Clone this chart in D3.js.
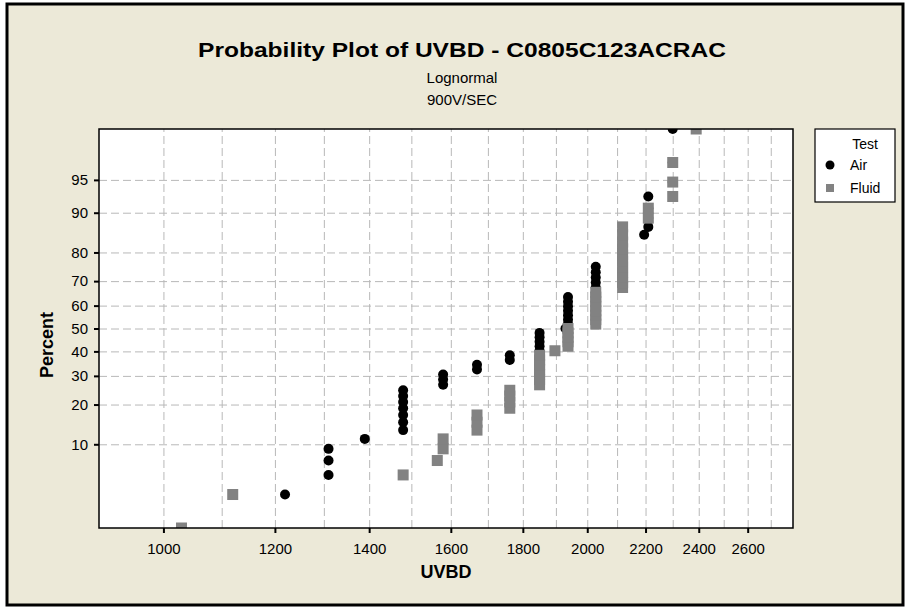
<!DOCTYPE html>
<html>
<head>
<meta charset="utf-8">
<script src="https://cdn.jsdelivr.net/npm/d3@7"></script>
<style>
body{margin:0;background:#fff;}
text{font-family:"Liberation Sans",Arial,sans-serif;}
</style>
</head>
<body>
<svg id="chart" width="906" height="609"></svg>
<script>
// UVBD values, with how many tied points sit at each one
var airValues  = [1030,1220,1310,1390,1480,1580,1670,1762,1850,1930,1938,2028,2119,2195,2210,2300];
var airCounts  = [1,   1,   3,   1,   7,   3,   2,   2,   5,   1,   7,   6,   4,   1,   4,   3];
var fluidValues = [1030,1120,1480,1565,1580,1670,1762,1850,1897,1938,2028,2119,2210,2300,2390];
var fluidCounts = [1,   1,   1,   1,   2,   3,   4,   7,   1,   5,   8,   11,  2,   3,   1];

var percentTicks = [10,20,30,40,50,60,70,80,90,95];
var uvbdTicks = [1000,1200,1400,1600,1800,2000,2200,2400,2600];
var uvbdGrid = [1000,1100,1200,1300,1400,1500,1600,1700,1800,1900,2000,2100,2200,2300,2400,2500,2600,2700];

var groups = ["Air","Fluid"];

// inverse normal cdf (Acklam)
function qnorm(p){
	var a=[-3.969683028665376e+01,2.209460984245205e+02,-2.759285104469687e+02,1.383577518672690e+02,-3.066479806614716e+01,2.506628277459239e+00];
	var b=[-5.447609879822406e+01,1.615858368580409e+02,-1.556989798598866e+02,6.680131188771972e+01,-1.328068155288572e+01];
	var c=[-7.784894002430293e-03,-3.223964580411365e-01,-2.400758277161838e+00,-2.549732539343734e+00,4.374664141464968e+00,2.938163982698783e+00];
	var d=[7.784695709041462e-03,3.224671290700398e-01,2.445134137142996e+00,3.754408661907416e+00];
	var q,r;
	if(p<0.02425){
		q=Math.sqrt(-2*Math.log(p));
		return (((((c[0]*q+c[1])*q+c[2])*q+c[3])*q+c[4])*q+c[5])/((((d[0]*q+d[1])*q+d[2])*q+d[3])*q+1);
	}
	if(p>1-0.02425){
		q=Math.sqrt(-2*Math.log(1-p));
		return -(((((c[0]*q+c[1])*q+c[2])*q+c[3])*q+c[4])*q+c[5])/((((d[0]*q+d[1])*q+d[2])*q+d[3])*q+1);
	}
	q=p-0.5; r=q*q;
	return (((((a[0]*r+a[1])*r+a[2])*r+a[3])*r+a[4])*r+a[5])*q/(((((b[0]*r+b[1])*r+b[2])*r+b[3])*r+b[4])*r+1);
}

// expand ties and give each point its median rank (Benard)
function points(values, counts){
	var list=[];
	values.forEach(function(v,i){ for(var k=0;k<counts[i];k++) list.push(v); });
	list.sort(d3.ascending);
	var n=list.length;
	return list.map(function(v,i){ return {v:v, z:qnorm((i+1-0.3)/(n+0.4))}; });
}
var air = points(airValues, airCounts);
var fluid = points(fluidValues, fluidCounts);
var zEdge = qnorm(0.7/(air.length+0.4));

var pLeft=99, pTop=129, pRight=793, pBottom=528;
var w=pRight-pLeft, h=pBottom-pTop;

var svg = d3.select("#chart");

svg.append("rect")
	.attr("x",7).attr("y",4)
	.attr("width",896).attr("height",601)
	.attr("fill","#ECE9D8")
	.attr("stroke","#000")
	.attr("stroke-width",3);

var x = d3.scaleLog().domain([900,2800]).range([0,w]);
var y = d3.scaleLinear().domain([zEdge,-zEdge]).range([h,0]);

var g = svg.append("g").attr("transform","translate("+pLeft+","+pTop+")");

g.append("rect").attr("width",w).attr("height",h).attr("fill","#fff");

// grid
g.append("g")
	.attr("class","grid")
	.attr("transform","translate(0,"+h+")")
	.call(d3.axisBottom(x).tickValues(uvbdGrid).tickSize(-h).tickFormat(""));
g.append("g")
	.attr("class","grid")
	.call(d3.axisLeft(y).tickValues(percentTicks.map(function(p){return qnorm(p/100);})).tickSize(-w).tickFormat(""));
g.selectAll(".grid .domain").remove();
g.selectAll(".grid line")
	.attr("stroke","#b8b8b8")
	.attr("stroke-width",1)
	.attr("stroke-dasharray","8,4");

// points
g.append("clipPath").attr("id","clip")
	.append("rect").attr("width",w).attr("height",h);
var pts = g.append("g").attr("clip-path","url(#clip)");

pts.selectAll("circle")
	.data(air)
	.enter().append("circle")
		.attr("cx",function(d){return x(d.v);})
		.attr("cy",function(d){return y(d.z);})
		.attr("r",5)
		.attr("fill","#000");

pts.selectAll("rect")
	.data(fluid)
	.enter().append("rect")
		.attr("x",function(d){return x(d.v)-5.5;})
		.attr("y",function(d){return y(d.z)-5.5;})
		.attr("width",11)
		.attr("height",11)
		.attr("fill","#828282");

g.append("rect").attr("width",w).attr("height",h)
	.attr("fill","none").attr("stroke","#000").attr("stroke-width",1.5);

// axes
var xaxis = g.append("g")
	.attr("transform","translate(0,"+h+")")
	.call(d3.axisBottom(x).tickValues(uvbdTicks).tickFormat(d3.format("d")).tickSize(5).tickPadding(10));
var yaxis = g.append("g")
	.call(d3.axisLeft(y)
		.tickValues(percentTicks.map(function(p){return qnorm(p/100);}))
		.tickFormat(function(d,i){return percentTicks[i];})
		.tickSize(5).tickPadding(6));
[xaxis,yaxis].forEach(function(a){
	a.select(".domain").remove();
	a.selectAll("line").attr("stroke","#000").attr("stroke-width",2);
	a.selectAll("text").attr("fill","#000").style("font-size","15px").style("font-family","Liberation Sans, Arial, sans-serif");
});

// titles
svg.append("text")
	.attr("x",462).attr("y",57)
	.attr("text-anchor","middle")
	.attr("textLength",528).attr("lengthAdjust","spacingAndGlyphs")
	.style("font-size","21px").style("font-weight","bold")
	.text("Probability Plot of UVBD - C0805C123ACRAC");
svg.append("text")
	.attr("x",462).attr("y",83)
	.attr("text-anchor","middle")
	.style("font-size","15px")
	.text("Lognormal");
svg.append("text")
	.attr("x",462).attr("y",105)
	.attr("text-anchor","middle")
	.style("font-size","15px")
	.text("900V/SEC");

svg.append("text")
	.attr("x",446).attr("y",578)
	.attr("text-anchor","middle")
	.style("font-size","18px").style("font-weight","bold")
	.text("UVBD");
svg.append("text")
	.attr("transform","translate(53,345) rotate(-90)")
	.attr("text-anchor","middle")
	.style("font-size","18px").style("font-weight","bold")
	.text("Percent");

// legend
var lg = svg.append("g").attr("transform","translate(815,129)");
lg.append("rect").attr("width",80).attr("height",73)
	.attr("fill","#fff").attr("stroke","#000").attr("stroke-width",1.2);
lg.append("text").attr("x",50).attr("y",20).attr("text-anchor","middle")
	.style("font-size","14px").text("Test");
lg.append("circle").attr("cx",15).attr("cy",36).attr("r",4.5).attr("fill","#000");
lg.append("text").attr("x",35).attr("y",41).style("font-size","14px").text(groups[0]);
lg.append("rect").attr("x",11).attr("y",55).attr("width",8).attr("height",8).attr("fill","#828282");
lg.append("text").attr("x",35).attr("y",64).style("font-size","14px").text(groups[1]);
</script>
</body>
</html>
